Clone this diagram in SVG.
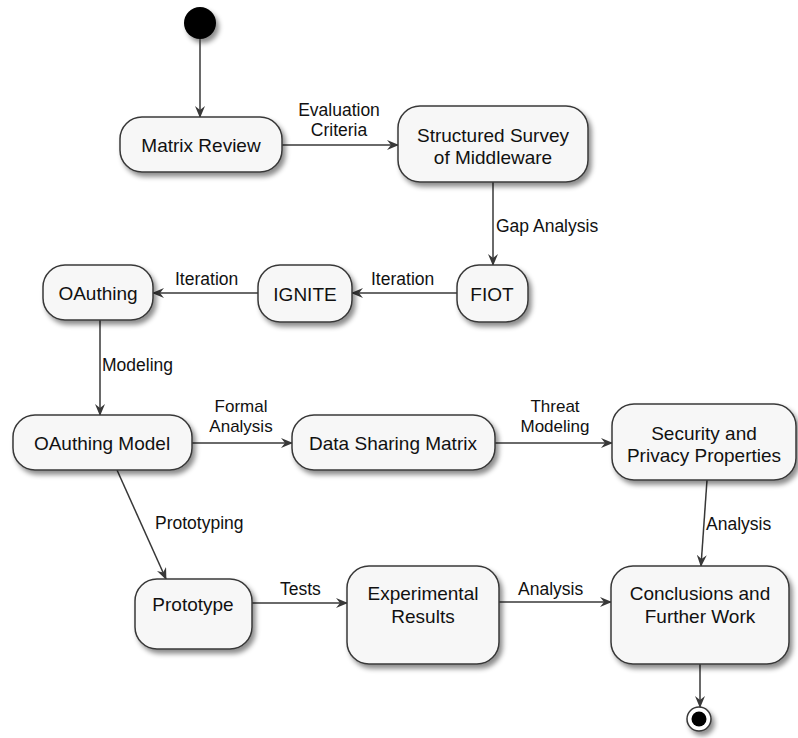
<svg xmlns="http://www.w3.org/2000/svg" width="798" height="738" viewBox="0 0 798 738">
  <style>
    .node rect { fill: #f7f7f7; stroke: #383838; stroke-width: 1.5; filter: url(#shadow); }
    .node text { font-family: "Liberation Sans", Arial, sans-serif; font-size: 19px; fill: #111; text-anchor: middle; }
    .edge { stroke: #383838; stroke-width: 1.5; fill: none; marker-end: url(#arrow); }
    .label { font-family: "Liberation Sans", Arial, sans-serif; font-size: 17.5px; fill: #111; }
    .small { font-size: 17px; }
    .mid { text-anchor: middle; }
  </style>
  <defs>
    <filter id="shadow" x="-20%" y="-20%" width="150%" height="160%">
      <feDropShadow dx="3" dy="4" stdDeviation="2.5" flood-color="#000" flood-opacity="0.45"/>
    </filter>
    <marker id="arrow" viewBox="0 0 12 10" refX="11" refY="5" markerWidth="12" markerHeight="10" markerUnits="userSpaceOnUse" orient="auto">
      <path d="M0,0 L12,5 L0,10 L4,5 Z" fill="#383838"/>
    </marker>
  </defs>

  <rect width="798" height="738" fill="#fff"/>

  <!-- start and end points -->
  <g id="start">
    <circle cx="200" cy="23" r="16" fill="#000" filter="url(#shadow)"/>
  </g>
  <g id="end">
    <circle cx="699" cy="719" r="12" fill="#fff" stroke="#383838" stroke-width="1.5" filter="url(#shadow)"/>
    <circle cx="699" cy="719" r="7.5" fill="#000"/>
  </g>

  <!-- connectors -->
  <g id="connectors">
    <line class="edge" x1="200" y1="39" x2="200" y2="117"/>
    <line class="edge" x1="282" y1="145" x2="398" y2="145"/>
    <text class="label mid" x="339" y="116">Evaluation</text>
    <text class="label mid" x="339" y="136">Criteria</text>

    <line class="edge" x1="493" y1="182" x2="493" y2="265"/>
    <text class="label" x="496" y="232">Gap Analysis</text>

    <line class="edge" x1="457" y1="293" x2="352" y2="293"/>
    <text class="label" x="371" y="285">Iteration</text>
    <line class="edge" x1="258" y1="293" x2="153" y2="293"/>
    <text class="label" x="175" y="285">Iteration</text>

    <line class="edge" x1="100" y1="320" x2="100" y2="415"/>
    <text class="label" x="102" y="371">Modeling</text>

    <line class="edge" x1="192" y1="443" x2="292" y2="443"/>
    <text class="label small mid" x="241" y="412">Formal</text>
    <text class="label small mid" x="241" y="432">Analysis</text>

    <line class="edge" x1="495" y1="443" x2="612" y2="443"/>
    <text class="label small mid" x="555" y="412">Threat</text>
    <text class="label small mid" x="555" y="432">Modeling</text>

    <line class="edge" x1="707" y1="480" x2="701" y2="566"/>
    <text class="label" x="706" y="530">Analysis</text>

    <line class="edge" x1="117" y1="470" x2="166" y2="579"/>
    <text class="label" x="155" y="529">Prototyping</text>

    <line class="edge" x1="252" y1="603" x2="347" y2="603"/>
    <text class="label" x="280" y="595">Tests</text>

    <line class="edge" x1="499" y1="602" x2="611" y2="602"/>
    <text class="label" x="518" y="595">Analysis</text>

    <line class="edge" x1="700" y1="664" x2="700" y2="707"/>
  </g>

  <!-- activities -->
  <g id="matrix-review" class="node">
    <rect x="120" y="117" width="162" height="55" rx="22"/>
    <text x="201" y="152">Matrix Review</text>
  </g>
  <g id="structured-survey" class="node">
    <rect x="398" y="106" width="190" height="76" rx="22"/>
    <text x="493" y="142">Structured Survey</text>
    <text x="493" y="164">of Middleware</text>
  </g>
  <g id="fiot" class="node">
    <rect x="457" y="265" width="71" height="57" rx="22"/>
    <text x="492" y="301">FIOT</text>
  </g>
  <g id="ignite" class="node">
    <rect x="258" y="265" width="94" height="57" rx="22"/>
    <text x="305" y="301">IGNITE</text>
  </g>
  <g id="oauthing" class="node">
    <rect x="43" y="265" width="110" height="55" rx="22"/>
    <text x="98" y="300">OAuthing</text>
  </g>
  <g id="oauthing-model" class="node">
    <rect x="13" y="415" width="179" height="55" rx="22"/>
    <text x="102" y="450">OAuthing Model</text>
  </g>
  <g id="data-sharing-matrix" class="node">
    <rect x="292" y="415" width="203" height="55" rx="22"/>
    <text x="393" y="450">Data Sharing Matrix</text>
  </g>
  <g id="security-privacy" class="node">
    <rect x="612" y="404" width="184" height="76" rx="22"/>
    <text x="704" y="440">Security and</text>
    <text x="704" y="462">Privacy Properties</text>
  </g>
  <g id="prototype" class="node">
    <rect x="135" y="579" width="117" height="70" rx="22"/>
    <text x="193" y="611">Prototype</text>
  </g>
  <g id="experimental-results" class="node">
    <rect x="347" y="566" width="152" height="98" rx="22"/>
    <text x="423" y="600">Experimental</text>
    <text x="423" y="623">Results</text>
  </g>
  <g id="conclusions" class="node">
    <rect x="611" y="566" width="178" height="98" rx="22"/>
    <text x="700" y="600">Conclusions and</text>
    <text x="700" y="623">Further Work</text>
  </g>
</svg>
